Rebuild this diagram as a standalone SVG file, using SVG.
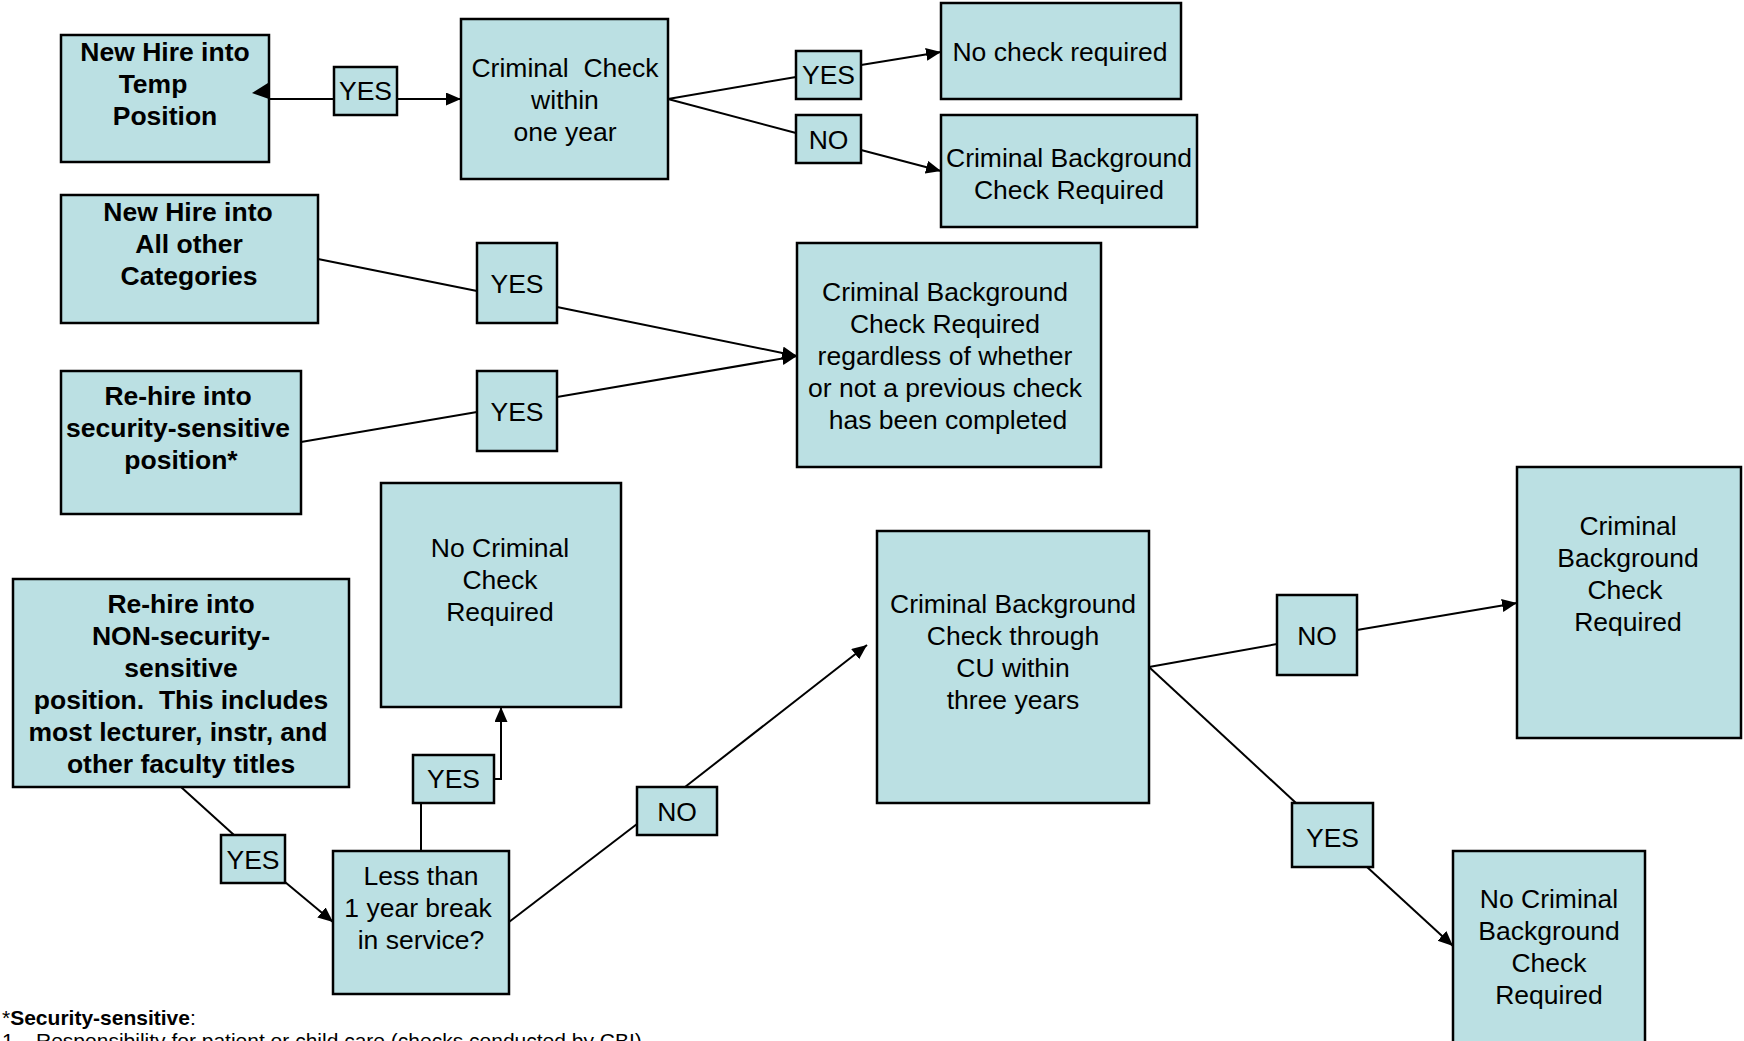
<svg xmlns="http://www.w3.org/2000/svg" width="1744" height="1041" viewBox="0 0 1744 1041">
<style>
.node rect{fill:#BBE0E3;stroke:#000;stroke-width:2.5}
.t{font-family:"Liberation Sans",Arial,sans-serif;font-size:26.5px;fill:#000;text-anchor:middle}
.b{font-weight:bold}
.conn line,.conn polyline{stroke:#000;stroke-width:2;fill:none}
.conn .ah{marker-end:url(#ah)}
.fn{font-family:"Liberation Sans",Arial,sans-serif;font-size:21px;fill:#000}
</style>
<defs>
<marker id="ah" markerUnits="userSpaceOnUse" markerWidth="16" markerHeight="14" refX="15" refY="6.5" orient="auto"><path d="M0,0 L15,6.5 L0,13 z" fill="#000"/></marker>
</defs>
<rect width="1744" height="1041" fill="#fff"/>

<g id="n-temp" class="node"><rect x="61" y="35" width="208" height="127"/>
<text class="t b"><tspan x="165" y="61">New Hire into</tspan><tspan x="153" y="93">Temp</tspan><tspan x="165" y="125">Position</tspan></text></g>
<g id="n-check1yr" class="node"><rect x="461" y="19" width="207" height="160"/>
<text class="t"><tspan x="565" y="77">Criminal&#160; Check</tspan><tspan x="565" y="109">within</tspan><tspan x="565" y="141">one year</tspan></text></g>
<g id="n-nocheck" class="node"><rect x="941" y="3" width="240" height="96"/>
<text class="t"><tspan x="1060" y="61">No check required</tspan></text></g>
<g id="n-cbcr1" class="node"><rect x="941" y="115" width="256" height="112"/>
<text class="t"><tspan x="1069" y="167">Criminal Background</tspan><tspan x="1069" y="199">Check Required</tspan></text></g>
<g id="l-yes1" class="node"><rect x="334" y="67" width="63" height="48"/><text class="t" x="365.5" y="100">YES</text></g>
<g id="l-yes2" class="node"><rect x="796" y="51" width="65" height="48"/><text class="t" x="828.5" y="84">YES</text></g>
<g id="l-no1" class="node"><rect x="796" y="115" width="65" height="48"/><text class="t" x="828.5" y="149">NO</text></g>

<g id="n-newother" class="node"><rect x="61" y="195" width="257" height="128"/>
<text class="t b"><tspan x="188" y="221">New Hire into</tspan><tspan x="189" y="253">All other</tspan><tspan x="189" y="285">Categories</tspan></text></g>
<g id="n-rehiress" class="node"><rect x="61" y="371" width="240" height="143"/>
<text class="t b"><tspan x="178" y="405">Re-hire into</tspan><tspan x="178" y="437">security-sensitive</tspan><tspan x="181" y="469">position*</tspan></text></g>
<g id="l-yes3" class="node"><rect x="477" y="243" width="80" height="80"/><text class="t" x="517" y="293">YES</text></g>
<g id="l-yes4" class="node"><rect x="477" y="371" width="80" height="80"/><text class="t" x="517" y="421">YES</text></g>
<g id="n-cbcr2" class="node"><rect x="797" y="243" width="304" height="224"/>
<text class="t"><tspan x="945" y="301">Criminal Background</tspan><tspan x="945" y="333">Check Required</tspan><tspan x="945" y="365">regardless of whether</tspan><tspan x="945" y="397">or not a previous check</tspan><tspan x="948" y="429">has been completed</tspan></text></g>

<g id="n-nocrim" class="node"><rect x="381" y="483" width="240" height="224"/>
<text class="t"><tspan x="500" y="557">No Criminal</tspan><tspan x="500" y="589">Check</tspan><tspan x="500" y="621">Required</tspan></text></g>
<g id="n-rehirenon" class="node"><rect x="13" y="579" width="336" height="208"/>
<text class="t b"><tspan x="181" y="613">Re-hire into</tspan><tspan x="181" y="645">NON-security-</tspan><tspan x="181" y="677">sensitive</tspan><tspan x="181" y="709">position.&#160; This includes</tspan><tspan x="178" y="741">most lecturer, instr, and</tspan><tspan x="181" y="773">other faculty titles</tspan></text></g>
<g id="l-yes5" class="node"><rect x="221" y="835" width="64" height="48"/><text class="t" x="253" y="869">YES</text></g>
<g id="n-break" class="node"><rect x="333" y="851" width="176" height="143"/>
<text class="t"><tspan x="421" y="885">Less than</tspan><tspan x="418" y="917">1 year break</tspan><tspan x="421" y="949">in service?</tspan></text></g>
<g id="l-yes6" class="node"><rect x="413" y="755" width="81" height="48"/><text class="t" x="453.5" y="788">YES</text></g>
<g id="l-no2" class="node"><rect x="637" y="787" width="80" height="48"/><text class="t" x="677" y="821">NO</text></g>
<g id="n-cu3yr" class="node"><rect x="877" y="531" width="272" height="272"/>
<text class="t"><tspan x="1013" y="613">Criminal Background</tspan><tspan x="1013" y="645">Check through</tspan><tspan x="1013" y="677">CU within</tspan><tspan x="1013" y="709">three years</tspan></text></g>
<g id="l-no3" class="node"><rect x="1277" y="595" width="80" height="80"/><text class="t" x="1317" y="645">NO</text></g>
<g id="n-cbcr3" class="node"><rect x="1517" y="467" width="224" height="271"/>
<text class="t"><tspan x="1628" y="535">Criminal</tspan><tspan x="1628" y="567">Background</tspan><tspan x="1625" y="599">Check</tspan><tspan x="1628" y="631">Required</tspan></text></g>
<g id="l-yes7" class="node"><rect x="1292" y="803" width="81" height="64"/><text class="t" x="1332.5" y="847">YES</text></g>
<g id="n-nocbc" class="node"><rect x="1453" y="851" width="192" height="240"/>
<text class="t"><tspan x="1549" y="908">No Criminal</tspan><tspan x="1549" y="940">Background</tspan><tspan x="1549" y="972">Check</tspan><tspan x="1549" y="1004">Required</tspan></text></g>

<g id="connectors" class="conn">
<line x1="269" y1="99" x2="334" y2="99"/>
<polygon points="252,93 268,83 269,99" fill="#000"/>
<line class="ah" x1="397" y1="99" x2="461" y2="99"/>
<line x1="668" y1="99" x2="796" y2="77"/>
<line class="ah" x1="861" y1="65" x2="941" y2="52"/>
<line x1="668" y1="99" x2="796" y2="133"/>
<line class="ah" x1="861" y1="150" x2="941" y2="171"/>
<line x1="318" y1="259" x2="477" y2="291"/>
<line class="ah" x1="557" y1="307" x2="797" y2="356"/>
<line x1="301" y1="442" x2="477" y2="412"/>
<line class="ah" x1="557" y1="397" x2="797" y2="356"/>
<line x1="181" y1="787" x2="234" y2="835"/>
<line class="ah" x1="285" y1="882" x2="333" y2="922"/>
<line x1="421" y1="851" x2="421" y2="803"/>
<polyline class="ah" points="494,779 501,779 501,707"/>
<line x1="509" y1="922" x2="637" y2="824"/>
<line class="ah" x1="685" y1="787" x2="867" y2="645"/>
<line x1="1149" y1="667" x2="1277" y2="644"/>
<line class="ah" x1="1357" y1="630" x2="1517" y2="603"/>
<line x1="1149" y1="667" x2="1296" y2="803"/>
<line class="ah" x1="1367" y1="867" x2="1453" y2="946"/>
</g>

<g id="footnote">
<text class="fn" x="2" y="1025">*<tspan font-weight="bold">Security-sensitive</tspan>:</text>
<text class="fn" y="1048"><tspan x="2">1.</tspan><tspan x="36">Responsibility for patient or child care (checks conducted by CBI)</tspan></text>
</g>
</svg>
